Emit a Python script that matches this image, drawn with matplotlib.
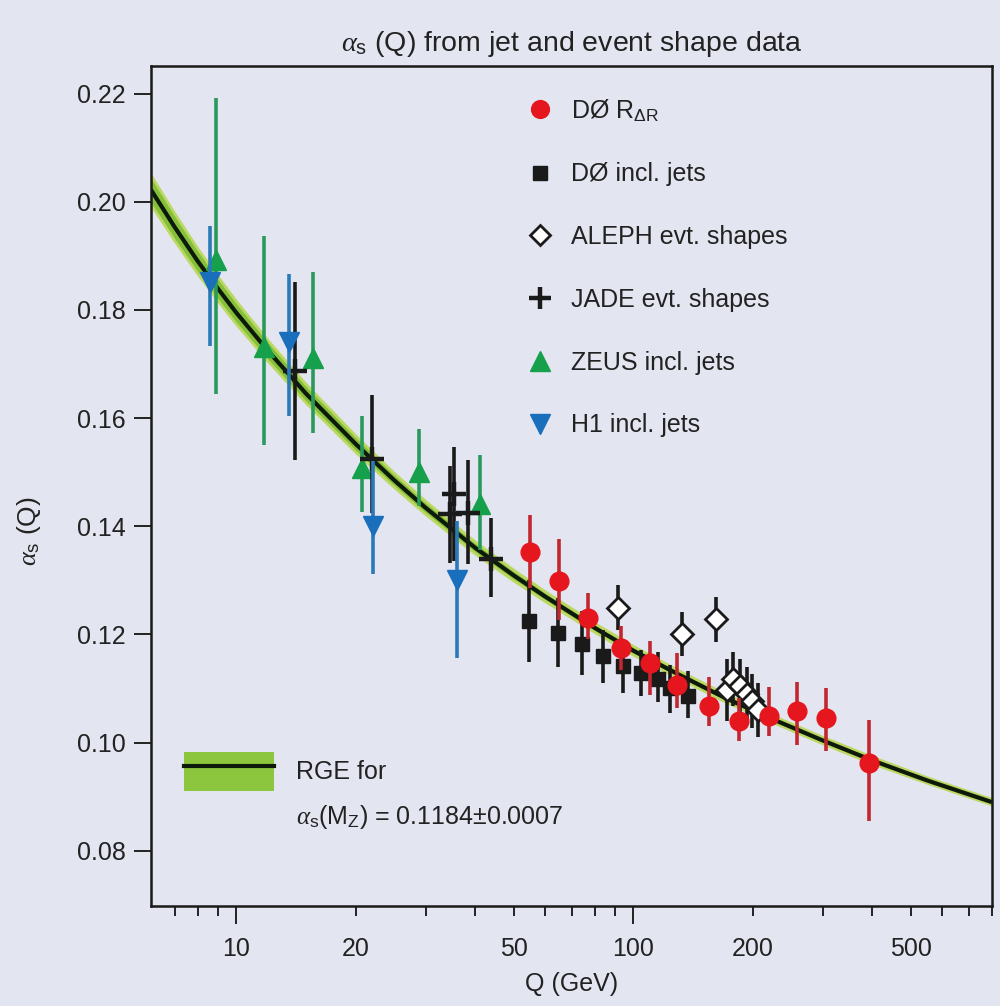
import matplotlib
matplotlib.use("Agg")
import matplotlib.pyplot as plt
import numpy as np
from matplotlib.lines import Line2D
from matplotlib.patches import Patch
from matplotlib.ticker import FixedLocator, FuncFormatter

plt.rcParams['font.family'] = ['Liberation Sans', 'DejaVu Sans']
plt.rcParams['mathtext.fontset'] = 'custom'
plt.rcParams['mathtext.rm'] = 'Liberation Sans'
plt.rcParams['mathtext.it'] = 'Liberation Serif:italic'
plt.rcParams['mathtext.bf'] = 'Liberation Sans:bold'

# ---------------- data ----------------
# RGE curve and band half-width
q_rge = [6.1, 7, 8, 9, 10, 12, 15, 20, 25, 30, 40, 50, 60, 80, 100, 130, 170, 220, 300, 400, 550, 800]
a_rge = [0.2022, 0.1953, 0.1890, 0.1839, 0.1795, 0.1725, 0.1645, 0.1552, 0.1485, 0.1434, 0.1360,
         0.1309, 0.1270, 0.1212, 0.1170, 0.1126, 0.1083, 0.1046, 0.1004, 0.0967, 0.0930, 0.0890]
hw_rge = [0.0027, 0.0025, 0.0023, 0.0022, 0.0021, 0.0019, 0.0017, 0.0015, 0.0013, 0.0012, 0.0011,
          0.0010, 0.0009, 0.0008, 0.0008, 0.0007, 0.0007, 0.0006, 0.0006, 0.0006, 0.0005, 0.0005]

# D0 R_dR
q_d0r = [55, 65, 76.9, 92.9, 110, 129, 155, 184.6, 219, 258, 306, 392]
a_d0r = [0.1353, 0.1298, 0.1231, 0.1175, 0.1148, 0.1106, 0.1067, 0.1040, 0.1049, 0.1058, 0.1046, 0.0963]
up_d0r = [0.0068, 0.0079, 0.0046, 0.0040, 0.0040, 0.0060, 0.0054, 0.0043, 0.0054, 0.0054, 0.0055, 0.0079]
dn_d0r = [0.0068, 0.0071, 0.0040, 0.0040, 0.0060, 0.0042, 0.0037, 0.0037, 0.0037, 0.0062, 0.0062, 0.0108]

# D0 inclusive jets
q_d0j = [54.6, 64.5, 74.4, 83.8, 94.2, 104.3, 115.5, 124, 137]
a_d0j = [0.1224, 0.1203, 0.1183, 0.1160, 0.1141, 0.1129, 0.1118, 0.1101, 0.1087]
up_d0j = [0.0077, 0.0064, 0.0060, 0.0049, 0.0050, 0.0043, 0.0050, 0.0043, 0.0045]
dn_d0j = [0.0074, 0.0064, 0.0057, 0.0049, 0.0049, 0.0043, 0.0043, 0.0046, 0.0041]

# ALEPH event shapes
q_aleph = [91.5, 132.9, 161, 172, 178.7, 185.6, 192.8, 198.5, 205.5]
a_aleph = [0.1249, 0.1200, 0.1228, 0.1098, 0.1118, 0.1104, 0.1090, 0.1077, 0.1061]
up_aleph = [0.0043, 0.0041, 0.0042, 0.0056, 0.0050, 0.0050, 0.0050, 0.0050, 0.0050]
dn_aleph = [0.0040, 0.0040, 0.0041, 0.0058, 0.0050, 0.0050, 0.0050, 0.0050, 0.0050]

# JADE event shapes
q_jade = [14.05, 22.0, 34.6, 35.4, 38.4, 43.9]
a_jade = [0.1687, 0.1525, 0.1422, 0.1460, 0.1425, 0.1340]
up_jade = [0.0164, 0.0118, 0.0090, 0.0086, 0.0098, 0.0075]
dn_jade = [0.0164, 0.0100, 0.0090, 0.0125, 0.0094, 0.0070]

# ZEUS inclusive jets
q_zeus = [8.9, 11.76, 15.65, 20.7, 28.9, 41.2]
a_zeus = [0.1892, 0.1731, 0.1712, 0.1508, 0.1500, 0.1441]
up_zeus = [0.0300, 0.0206, 0.0158, 0.0095, 0.0080, 0.0091]
dn_zeus = [0.0247, 0.0180, 0.0140, 0.0082, 0.0063, 0.0084]

# H1 inclusive jets
q_h1 = [8.6, 13.54, 22.1, 35.9]
a_h1 = [0.1852, 0.1740, 0.1400, 0.1300]
up_h1 = [0.0103, 0.0127, 0.0120, 0.0110]
dn_h1 = [0.0118, 0.0137, 0.0089, 0.0143]

x_major = [10, 100]
x_minor = [7, 8, 9, 20, 30, 40, 50, 60, 70, 80, 90, 200, 300, 400, 500, 600, 700, 800]
x_minor_labels = [20, 50, 200, 500]
y_ticks = [0.08, 0.10, 0.12, 0.14, 0.16, 0.18, 0.20, 0.22]

labels = [r'DØ R$_{\Delta\mathrm{R}}$', 'DØ incl. jets', 'ALEPH evt. shapes',
          'JADE evt. shapes', 'ZEUS incl. jets', 'H1 incl. jets']

# ---------------- styles ----------------
BG = '#e3e5f1'
RED = '#e5161d'
RED_E = '#c0272f'
BLK = '#1a1a1a'
GRN = '#16a04b'
GRN_E = '#2a9a5c'
BLU = '#1a6fbd'
BLU_E = '#2a7ab8'
TXT = '#222222'

fig = plt.figure(figsize=(10, 10.06), dpi=100, facecolor=BG)
ax = fig.add_axes([0.151, 0.0994, 0.841, 0.8350], facecolor=BG)
ax.set_xscale('log')

q = np.array(q_rge); a = np.array(a_rge); hw = np.array(hw_rge)
ax.fill_between(q, a - hw, a + hw, color='#84c03a', lw=0, zorder=1)
ax.plot(q, a - hw, color='#bcd862', lw=2.0, zorder=1.1)
ax.plot(q, a + hw, color='#bcd862', lw=2.0, zorder=1.1)
ax.plot(q, a, color='#0d1a0a', lw=3, zorder=1.2, solid_capstyle='butt')

def eb(x, y, dn, up, z, **kw):
    ax.errorbar(x, y, yerr=[dn, up], capsize=0, linestyle='none', zorder=z, **kw)

styles = [
    dict(fmt='o', color=RED, ms=13.5, mec=RED, ecolor=RED_E, elinewidth=2.6),
    dict(fmt='s', color=BLK, ms=10, mec=BLK, ecolor=BLK, elinewidth=2.6),
    dict(fmt='D', color='white', ms=11, mec=BLK, mew=2.0, ecolor=BLK, elinewidth=2.6),
    dict(fmt='+', color=BLK, ms=17, mew=3.2, ecolor=BLK, elinewidth=2.6),
    dict(fmt='^', color=GRN, ms=15, mec=GRN, ecolor=GRN_E, elinewidth=2.6),
    dict(fmt='v', color=BLU, ms=15, mec=BLU, ecolor=BLU_E, elinewidth=2.6),
]

eb(q_zeus, a_zeus, dn_zeus, up_zeus, 3, **styles[4])
eb(q_jade, a_jade, dn_jade, up_jade, 4, **styles[3])
eb(q_h1, a_h1, dn_h1, up_h1, 5, **styles[5])
eb(q_d0j, a_d0j, dn_d0j, up_d0j, 3, **styles[1])
eb(q_aleph, a_aleph, dn_aleph, up_aleph, 4, **styles[2])
eb(q_d0r, a_d0r, dn_d0r, up_d0r, 5, **styles[0])

ax.set_xlim(6.1, 800)
ax.set_ylim(0.0698, 0.2251)

# ticks
ax.xaxis.set_major_locator(FixedLocator(x_major))
ax.xaxis.set_minor_locator(FixedLocator(x_minor))
ax.xaxis.set_major_formatter(FuncFormatter(lambda v, p: f'{v:g}'))
ax.xaxis.set_minor_formatter(FuncFormatter(lambda v, p: f'{v:g}' if round(v) in x_minor_labels else ''))
ax.set_yticks(y_ticks)
ax.yaxis.set_major_formatter(FuncFormatter(lambda v, p: f'{v:.2f}'))
ax.tick_params(axis='x', which='major', length=13, width=1.4, pad=9, labelsize=18, colors=TXT)
ax.tick_params(axis='x', which='minor', length=7.5, width=1.4, pad=14.5, labelsize=18, colors=TXT)
ax.tick_params(axis='y', which='major', length=12, width=1.4, pad=6, labelsize=18, colors=TXT)
for s in ax.spines.values():
    s.set_linewidth(1.8)
    s.set_color('#1a1a1a')

ax.set_xlabel('Q (GeV)', fontsize=18, color=TXT, labelpad=8)
ax.set_ylabel(r'$\alpha_{\rm s}$ (Q)', fontsize=19, color=TXT)
ax.yaxis.set_label_coords(-0.128, 0.446)
ax.set_title(r'$\alpha_{\rm s}$ (Q) from jet and event shape data', fontsize=20.5, color=TXT, pad=11)

# main legend
handles = []
for st in styles:
    handles.append(Line2D([], [], linestyle='none', marker=st['fmt'], color=st['color'],
                          markersize=st['ms'] * 0.95, markeredgecolor=st.get('mec', st['color']),
                          markeredgewidth=st.get('mew', 1.0)))
leg = ax.legend(handles, labels, loc='upper left', bbox_to_anchor=(0.4477, 0.963),
                frameon=False, fontsize=18, handlelength=1.0, handletextpad=0.75,
                labelspacing=1.55, borderpad=0, borderaxespad=0)
for t in leg.get_texts():
    t.set_color(TXT)
ax.add_artist(leg)

# RGE legend
rge_handle = (Patch(facecolor='#8cc63e', edgecolor='none'), Line2D([], [], color='#0d1a0a', lw=3))
blank = Patch(facecolor='none', edgecolor='none')
leg2 = ax.legend([rge_handle, blank],
                 ['RGE for', r'$\alpha_{\rm s}$(M$_{\rm Z}$) = 0.1184±0.0007'],
                 loc='upper left', bbox_to_anchor=(0.0392, 0.1833), frameon=False,
                 fontsize=18, handlelength=3.6, handleheight=2.0, handletextpad=0.9,
                 labelspacing=0.25, borderpad=0, borderaxespad=0)
for t in leg2.get_texts():
    t.set_color(TXT)

fig.savefig('out.png', dpi=100, facecolor=BG)
